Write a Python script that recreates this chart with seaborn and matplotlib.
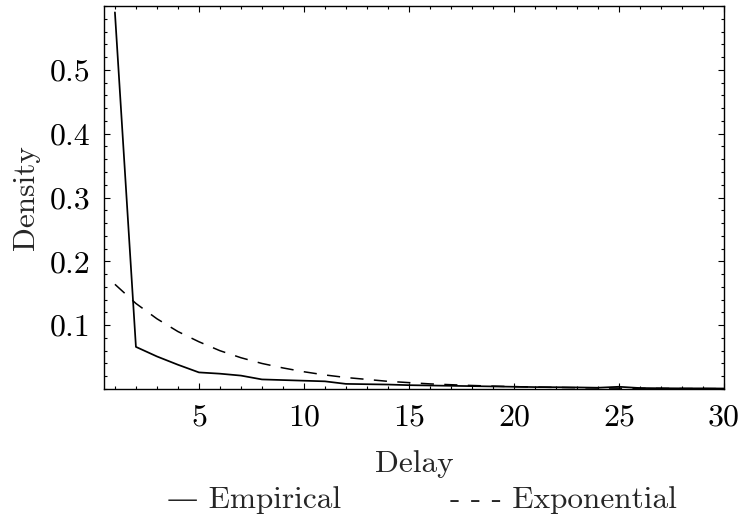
import matplotlib
matplotlib.use("Agg")
import matplotlib.pyplot as plt
import seaborn as sns
import numpy as np
from matplotlib.ticker import MultipleLocator

delay = list(range(1, 31))
empirical = [0.590, 0.066, 0.051, 0.038, 0.026, 0.024, 0.021, 0.015, 0.014, 0.013,
             0.012, 0.008, 0.0075, 0.007, 0.006, 0.0055, 0.005, 0.0045, 0.004, 0.0035,
             0.003, 0.0028, 0.0025, 0.002, 0.0035, 0.0015, 0.0012, 0.001, 0.001, 0.0008]
exponential = [0.164, 0.134, 0.110, 0.090, 0.074, 0.060, 0.049, 0.040, 0.033, 0.027,
               0.022, 0.018, 0.015, 0.012, 0.010, 0.008, 0.0067, 0.0055, 0.0045, 0.0037,
               0.0030, 0.0025, 0.0020, 0.0016, 0.0013, 0.0011, 0.0009, 0.0007, 0.0006, 0.0005]
x_ticks = [5, 10, 15, 20, 25, 30]
y_ticks = [0.1, 0.2, 0.3, 0.4, 0.5]

sns.set_style("ticks")
plt.rcParams['font.family'] = ['cmr10', 'DejaVu Serif']
plt.rcParams['axes.formatter.use_mathtext'] = True

FS_TICK = 23
FS = 22.5

fig = plt.figure(figsize=(7.41, 5.27), dpi=100)
ax = fig.add_axes([104/741, 1-389/527, (724-104)/741, (389-6)/527])

sns.lineplot(x=delay, y=empirical, ax=ax, color='black', linewidth=1.25)
sns.lineplot(x=delay, y=exponential, ax=ax, color='black', linewidth=1.1)
ax.lines[-1].set_dashes((8.6, 6.8))

ax.set_xlim(0.48, 30)
ax.set_ylim(0, 0.6)
ax.set_xticks(x_ticks)
ax.set_yticks(y_ticks)
ax.xaxis.set_minor_locator(MultipleLocator(1))
ax.yaxis.set_minor_locator(MultipleLocator(0.02))
ax.tick_params(which='both', direction='in', top=True, right=True, labelsize=FS_TICK,
               width=0.8, color='black', labelcolor='black')
ax.tick_params(which='major', length=4.5)
ax.tick_params(axis='x', which='major', pad=11)
ax.tick_params(axis='y', which='major', pad=10)
ax.tick_params(which='minor', length=2.2)
ax.set_xticklabels([str(v) for v in x_ticks])
ax.set_yticklabels([f"{v:.1f}" for v in y_ticks])
for s in ax.spines.values():
    s.set_visible(True)
    s.set_linewidth(1.0)
    s.set_color('black')

ax.set_xlabel("Delay", fontsize=FS, labelpad=13)
ax.set_ylabel("Density", fontsize=FS, labelpad=7)

fig.text(254/741, 1-500/527, "— Empirical", fontsize=FS, ha='center', va='center',
         family=['cmr10', 'DejaVu Serif'])
fig.text(563/741, 1-500/527, "- - - Exponential", fontsize=FS, ha='center', va='center')

fig.savefig("out.png", dpi=100)
